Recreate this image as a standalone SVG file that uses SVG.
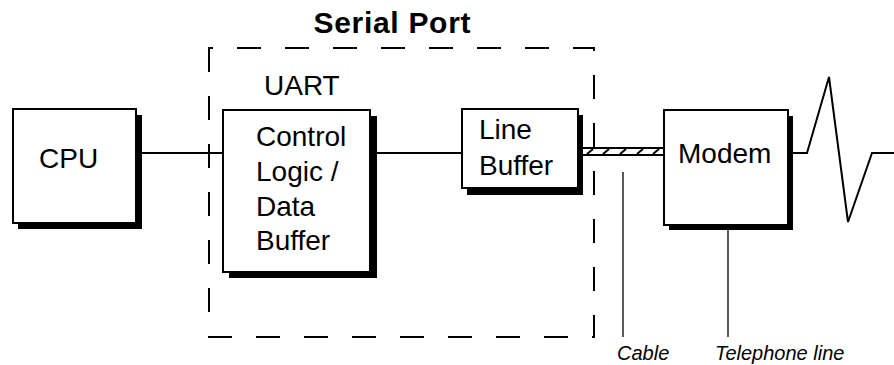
<svg xmlns="http://www.w3.org/2000/svg" width="894" height="365" viewBox="0 0 894 365">
<style>
text{font-family:"Liberation Sans",Arial,Helvetica,sans-serif;fill:#000}
.lbl{font-size:28px}
.title{font-size:30px;font-weight:bold}
.note{font-size:20px;font-style:italic}
.box{fill:#fff;stroke:#000;stroke-width:2}
.shadow{fill:#000}
.wire{fill:none;stroke:#000;stroke-width:2}
.leader{fill:none;stroke:#000;stroke-width:1.3}
.frame{fill:none;stroke:#000;stroke-width:2;stroke-dasharray:24 24}
</style>
<rect width="894" height="365" fill="#fff"/>
<g id="serial-port">
<path class="frame" d="M209,48 V337 H594 V48 Z"/>
<text class="title" x="392" y="33" text-anchor="middle" textLength="157">Serial Port</text>
<text class="lbl" x="264" y="95">UART</text>
</g>
<g id="connectors">
<line class="wire" x1="136" y1="153" x2="223" y2="153"/>
<line class="wire" x1="370" y1="153" x2="462" y2="153"/>
<g id="cable">
<rect x="580" y="148" width="84" height="7" fill="#fff" stroke="#000" stroke-width="2"/>
<path class="wire" stroke-width="1.5" d="M587,154 L593,149 M603,154 L609,149 M620,154 L626,149 M637,154 L643,149 M653,154 L659,149"/>
</g>
<polyline class="wire" stroke-width="2.5" stroke-linejoin="miter" points="788,153 807,153 829,77 848,222 872,153 894,153"/>
<line class="leader" x1="623" y1="172" x2="623" y2="337"/>
<line class="leader" x1="728" y1="225" x2="728" y2="337"/>
</g>
<g id="cpu">
<rect class="shadow" x="18" y="115" width="124" height="114"/>
<rect class="box" x="13" y="109" width="123" height="114"/>
<text class="lbl" x="39" y="168">CPU</text>
</g>
<g id="control-logic">
<rect class="shadow" x="229" y="116" width="148" height="162"/>
<rect class="box" x="223" y="110" width="147" height="162"/>
<text class="lbl" x="256" y="146">Control</text>
<text class="lbl" x="256" y="181">Logic /</text>
<text class="lbl" x="256" y="216">Data</text>
<text class="lbl" x="256" y="250">Buffer</text>
</g>
<g id="line-buffer">
<rect class="shadow" x="467" y="115" width="116" height="80"/>
<rect class="box" x="462" y="109" width="116" height="79"/>
<text class="lbl" x="479" y="139">Line</text>
<text class="lbl" x="479" y="175">Buffer</text>
</g>
<g id="modem">
<rect class="shadow" x="669" y="116" width="124" height="114"/>
<rect class="box" x="664" y="110" width="124" height="115"/>
<text class="lbl" x="678" y="163">Modem</text>
</g>
<g id="labels">
<text class="note" x="617" y="360">Cable</text>
<text class="note" x="715" y="360">Telephone line</text>
</g>
</svg>
